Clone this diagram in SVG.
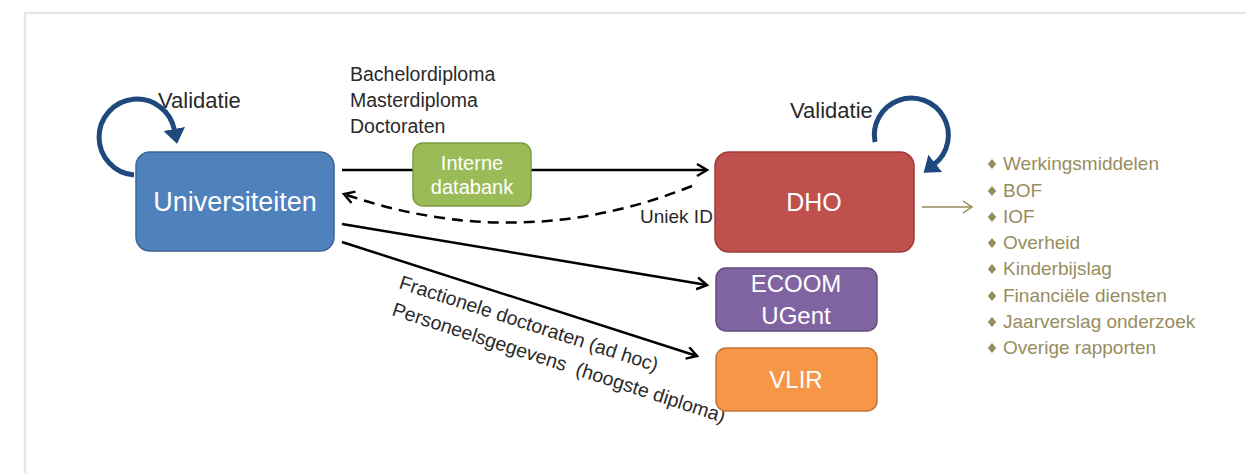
<svg xmlns="http://www.w3.org/2000/svg" width="1246" height="473" viewBox="0 0 1246 473">
<style>
text{font-family:"Liberation Sans",Arial,sans-serif}
.lbl{fill:#2a2a2a}
.wt{fill:#ffffff;text-anchor:middle}
.box{stroke-width:1.5}
.conn{fill:none;stroke:#000;stroke-width:2.5}
.loop{fill:none;stroke:#1f497d;stroke-width:5}
.list{fill:#978d5e;font-size:19px}
</style>
<defs>
<marker id="open" markerUnits="userSpaceOnUse" markerWidth="16" markerHeight="16" refX="12" refY="7" orient="auto" viewBox="0 0 16 16">
<path d="M2,1 L12,7 L2,13" fill="none" stroke="#000" stroke-width="2.5" stroke-linejoin="miter"/>
</marker>
<marker id="openOlive" markerUnits="userSpaceOnUse" markerWidth="16" markerHeight="16" refX="12" refY="7" orient="auto" viewBox="0 0 16 16">
<path d="M3,1 L12,7 L3,13" fill="none" stroke="#948a54" stroke-width="1.5"/>
</marker>
<marker id="solid" markerUnits="userSpaceOnUse" markerWidth="22" markerHeight="26" refX="1" refY="12" orient="auto" viewBox="0 0 22 26">
<path d="M0,1 L15,12 L0,23 Z" fill="#1f497d"/>
</marker>
<path id="dia" d="M0,-5 L4.2,0 L0,5 L-4.2,0 Z" fill="#978d5e"/>
</defs>
<rect width="1246" height="473" fill="#ffffff"/>
<path d="M25,473 V13 H1246" fill="none" stroke="#e6e6e6" stroke-width="2.5"/>

<g id="connectors">
<line class="conn" x1="342" y1="170" x2="707" y2="170" marker-end="url(#open)"/>
<path class="conn" d="M692,186 Q520,255 344,194" stroke-dasharray="11 7" marker-end="url(#open)"/>
<line class="conn" x1="342" y1="224" x2="707" y2="285" marker-end="url(#open)"/>
<line class="conn" x1="342" y1="242" x2="697" y2="356" marker-end="url(#open)"/>
<line x1="922" y1="207" x2="972" y2="207" stroke="#948a54" stroke-width="1.5" marker-end="url(#openOlive)"/>
<path class="loop" d="M134,175 A38 38 0 1 1 174.4,130" marker-end="url(#solid)"/>
<path class="loop" d="M875,142 A37 37 0 1 1 934.5,164" marker-end="url(#solid)"/>
</g>

<g id="labels">
<text class="lbl" x="158" y="108" font-size="22">Validatie</text>
<text class="lbl" x="790" y="118" font-size="22">Validatie</text>
<text class="lbl" x="350" y="81" font-size="19.5">Bachelordiploma</text>
<text class="lbl" x="350" y="107" font-size="19.5">Masterdiploma</text>
<text class="lbl" x="350" y="133" font-size="19.5">Doctoraten</text>
<text class="lbl" x="640" y="223" font-size="19">Uniek ID</text>
<text class="lbl" font-size="19.5" transform="translate(398,288) rotate(18)">Fractionele doctoraten (ad hoc)</text>
<text class="lbl" font-size="19.5" transform="translate(391,315) rotate(18)" xml:space="preserve">Personeelsgegevens  (hoogste diploma)</text>
</g>

<g id="universiteiten">
<rect class="box" x="136" y="152" width="198" height="99" rx="14" fill="#4f81bd" stroke="#3a6595"/>
<text class="wt" x="235" y="211" font-size="27">Universiteiten</text>
</g>

<g id="interne-databank">
<rect class="box" x="413" y="143" width="118" height="63" rx="10" fill="#9bbb59" stroke="#7c9a42"/>
<text class="wt" x="472" y="170" font-size="20">Interne</text>
<text class="wt" x="472" y="194" font-size="20">databank</text>
</g>

<g id="dho">
<rect class="box" x="715" y="152" width="199" height="100" rx="14" fill="#c0504d" stroke="#9c3b38"/>
<text class="wt" x="814" y="211" font-size="25">DHO</text>
</g>

<g id="ecoom">
<rect class="box" x="716" y="268" width="161" height="63" rx="10" fill="#8064a2" stroke="#634c80"/>
<text class="wt" x="796" y="292" font-size="24">ECOOM</text>
<text class="wt" x="796" y="324" font-size="24">UGent</text>
</g>

<g id="vlir">
<rect class="box" x="716" y="348" width="161" height="63" rx="10" fill="#f79646" stroke="#c0763a"/>
<text class="wt" x="796" y="388" font-size="24">VLIR</text>
</g>

<g id="output-list">
<use href="#dia" x="992" y="164"/><text class="list" x="1003" y="170">Werkingsmiddelen</text>
<use href="#dia" x="992" y="191"/><text class="list" x="1003" y="197">BOF</text>
<use href="#dia" x="992" y="217"/><text class="list" x="1003" y="223">IOF</text>
<use href="#dia" x="992" y="243"/><text class="list" x="1003" y="249">Overheid</text>
<use href="#dia" x="992" y="269"/><text class="list" x="1003" y="275">Kinderbijslag</text>
<use href="#dia" x="992" y="296"/><text class="list" x="1003" y="302">Financiële diensten</text>
<use href="#dia" x="992" y="322"/><text class="list" x="1003" y="328">Jaarverslag onderzoek</text>
<use href="#dia" x="992" y="348"/><text class="list" x="1003" y="354">Overige rapporten</text>
</g>
</svg>
